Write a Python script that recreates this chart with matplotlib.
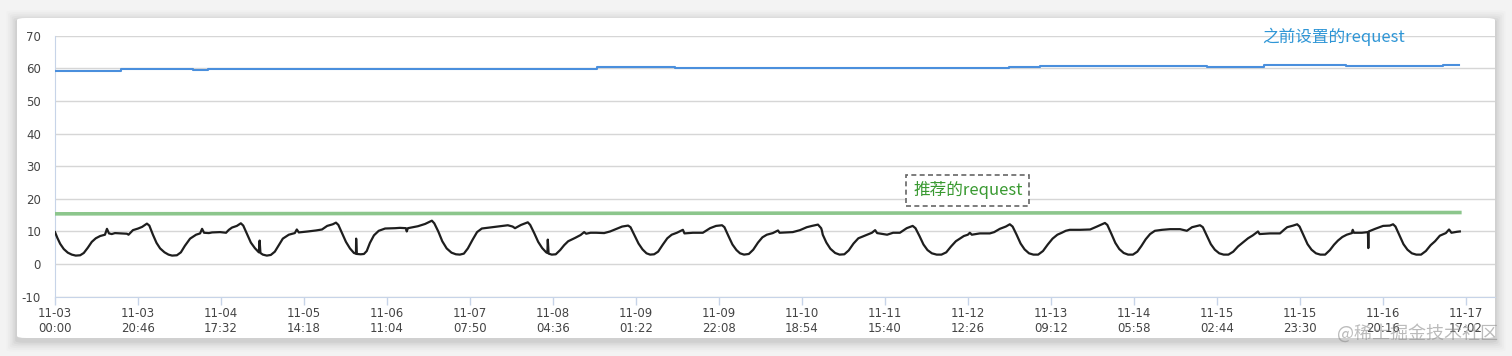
import matplotlib
matplotlib.use("Agg")
import matplotlib.pyplot as plt
from matplotlib.patches import FancyBboxPatch
import pandas as pd

# ---- data (hour since 11-03 00:00, value) ----
usage_points = [
    # day 1
    (0.0, 9.8), (0.6, 8.0), (1.3, 6.2), (2.2, 4.6), (3.2, 3.5), (4.2, 2.9), (5.2, 2.6), (6.3, 2.7),
    (7.2, 3.4), (8.2, 5.0), (9.2, 6.8), (10.2, 7.9), (11.3, 8.6), (12.5, 9.0), (13.0, 10.8), (13.5, 9.4),
    (14.2, 9.2), (15.0, 9.5), (16.8, 9.4), (18.0, 9.3), (18.4, 9.0), (19.5, 10.4), (20.8, 10.9),
    (21.8, 11.4), (23.0, 12.4), (23.6, 11.8), (24.5, 9.0), (25.4, 6.5), (26.3, 4.8), (27.4, 3.6),
    (28.4, 2.9), (29.3, 2.6),
    # day 2
    (30.5, 2.7), (31.5, 3.6), (32.5, 5.6), (33.8, 7.8), (35.3, 9.0), (36.3, 9.4), (36.8, 10.8),
    (37.3, 9.6), (38.5, 9.5), (39.3, 9.7), (41.3, 9.8), (42.8, 9.6), (43.5, 10.5), (44.3, 11.2),
    (45.5, 11.7), (46.5, 12.5), (47.1, 11.8), (48.0, 9.3), (49.0, 6.6), (50.0, 4.9), (51.0, 3.6),
    (51.2, 7.2), (51.4, 3.4), (52.0, 2.9), (53.0, 2.6),
    # day 3
    (54.0, 2.8), (55.0, 3.8), (56.0, 5.8), (57.0, 7.8), (58.5, 9.0), (60.0, 9.5), (60.5, 10.6),
    (61.0, 9.7), (63.3, 10.0), (65.3, 10.3), (66.8, 10.6), (68.1, 11.7), (69.5, 12.2), (70.3, 12.7),
    (70.9, 12.0), (71.8, 9.5), (72.8, 6.8), (73.8, 4.8), (74.8, 3.4), (75.3, 3.2), (75.35, 7.8),
    (75.5, 3.1), (76.5, 3.0), (77.3, 3.1),
    # day 4
    (78.0, 4.0), (78.8, 6.5), (79.8, 8.8), (81.0, 10.2), (82.6, 10.9), (85.1, 11.0), (86.3, 11.1),
    (87.8, 11.0), (88.0, 10.0), (88.3, 11.0), (90.8, 11.6), (92.6, 12.3), (94.3, 13.3), (94.9, 12.5),
    (95.9, 10.0), (96.9, 7.0), (98.0, 4.8), (99.2, 3.5), (100.3, 3.0), (101.3, 2.9),
    # day 5
    (102.3, 3.2), (103.3, 4.8), (104.5, 7.5), (105.6, 9.8), (106.8, 10.9), (108.8, 11.2), (111.3, 11.6),
    (113.3, 11.9), (114.5, 11.5), (115.1, 11.0), (116.6, 12.0), (118.3, 12.8), (118.9, 12.0),
    (119.9, 9.5), (120.9, 6.8), (121.9, 4.9), (122.9, 3.6), (123.2, 3.4), (123.3, 7.5), (123.5, 3.2),
    (124.3, 2.9), (125.3, 3.0),
    # day 6
    (126.4, 4.3), (127.4, 5.8), (128.4, 7.0), (130.1, 8.0), (131.5, 8.9), (132.4, 9.8), (132.9, 9.3),
    (134.0, 9.6), (135.4, 9.6), (137.4, 9.5), (138.9, 10.0), (140.1, 10.6), (141.9, 11.5), (143.4, 11.8),
    (144.0, 11.3), (145.0, 8.8), (146.0, 6.3), (147.0, 4.5), (148.0, 3.3), (148.9, 2.9), (149.9, 3.0),
    # day 7
    (150.9, 3.8), (152.1, 6.0), (153.2, 7.9), (154.3, 9.0), (155.6, 9.6), (157.1, 10.5), (157.5, 9.4),
    (159.6, 9.6), (162.1, 9.6), (163.9, 11.0), (165.4, 11.7), (166.9, 11.9), (167.5, 11.3), (168.5, 8.6),
    (169.5, 6.0), (170.5, 4.3), (171.4, 3.3), (172.4, 2.9), (173.6, 3.1),
    # day 8
    (174.7, 4.4), (175.9, 6.6), (177.0, 8.2), (178.1, 9.0), (179.6, 9.5), (180.9, 10.3), (181.3, 9.6),
    (184.6, 9.8), (186.4, 10.4), (188.1, 11.3), (189.4, 11.7), (190.9, 12.1), (191.7, 11.0),
    (191.9, 10.2), (192.1, 9.0), (193.0, 6.6), (194.0, 4.7), (195.2, 3.4), (196.3, 2.9), (197.5, 3.0),
    # day 9
    (198.6, 4.2), (199.8, 6.3), (201.0, 7.9), (203.2, 9.0), (204.4, 9.6), (205.2, 10.4), (205.7, 9.5),
    (208.2, 9.0), (209.7, 9.6), (211.4, 9.6), (213.1, 11.0), (214.6, 11.7), (215.3, 11.0), (216.3, 8.6),
    (217.3, 6.0), (218.3, 4.3), (219.4, 3.3), (220.6, 2.9), (221.8, 2.9),
    # day 10
    (223.0, 3.6), (224.2, 5.4), (225.4, 7.0), (227.4, 8.6), (228.4, 9.0), (228.9, 9.6), (229.4, 9.0),
    (231.4, 9.4), (233.9, 9.4), (235.0, 9.8), (236.4, 10.8), (237.9, 11.5), (238.9, 12.2), (239.6, 11.5),
    (240.6, 9.0), (241.6, 6.3), (242.6, 4.5), (243.7, 3.3), (244.8, 2.9), (246.0, 2.9),
    # day 11
    (247.2, 4.0), (248.4, 6.0), (249.6, 7.8), (250.8, 9.0), (251.9, 9.6), (252.9, 10.2), (253.9, 10.5),
    (256.5, 10.5), (259.0, 10.6), (260.7, 11.5), (262.7, 12.6), (263.3, 12.0), (264.3, 9.3),
    (265.3, 6.5), (266.3, 4.6), (267.4, 3.4), (268.5, 2.9), (269.7, 2.9),
    # day 12
    (270.8, 3.8), (271.8, 5.5), (272.9, 7.6), (274.0, 9.2), (275.2, 10.2), (277.0, 10.5), (279.0, 10.7),
    (281.5, 10.7), (283.2, 10.2), (284.5, 11.3), (286.5, 11.9), (287.2, 11.3), (288.2, 8.7),
    (289.2, 6.1), (290.2, 4.4), (291.3, 3.3), (292.4, 2.9), (293.6, 2.9),
    # day 13
    (294.8, 3.8), (296.0, 5.4), (297.2, 6.6), (298.5, 7.9), (299.7, 8.8), (301.0, 10.0), (301.4, 9.2),
    (304.0, 9.4), (306.5, 9.4), (307.5, 10.5), (308.3, 11.3), (309.8, 11.8), (310.8, 12.2),
    (311.4, 11.5), (312.4, 8.8), (313.4, 6.1), (314.4, 4.4), (315.5, 3.3), (316.6, 2.9), (317.8, 2.9),
    # day 14
    (319.0, 4.3), (320.0, 5.9), (321.0, 7.2), (322.1, 8.3), (323.2, 9.0), (324.5, 9.5), (324.7, 10.5),
    (325.0, 9.6), (327.0, 9.6), (328.5, 9.8), (328.6, 4.9), (328.7, 10.0), (330.3, 10.8), (332.3, 11.7),
    (334.0, 11.8), (334.8, 12.2), (335.4, 11.5), (336.4, 8.8), (337.4, 6.1), (338.4, 4.4), (339.5, 3.3),
    (340.6, 2.9), (341.8, 2.9),
    # day 15
    (343.0, 4.0), (344.2, 5.8), (345.3, 7.0), (346.5, 8.7), (348.0, 9.5), (348.8, 10.6), (349.4, 9.6),
    (350.3, 9.8), (350.8, 9.9), (351.5, 10.0),
]
usage_hours = [p[0] for p in usage_points]
usage_vals = [p[1] for p in usage_points]

old_req_hours = [0, 16.5, 34.5, 38.3, 135.6, 155.1, 212.2, 238.7, 246.4, 288.2, 302.5, 323.0, 347.3, 351.3]
old_req_vals = [59.2, 59.9, 59.4, 59.9, 60.4, 60.0, 60.2, 60.4, 60.6, 60.5, 60.9, 60.8, 61.0, 61.0]

rec_req_hours = [0, 351.5]
rec_req_vals = [15.4, 15.8]

tick_labels = ["11-03 00:00", "11-03 20:46", "11-04 17:32", "11-05 14:18", "11-06 11:04",
               "11-07 07:50", "11-08 04:36", "11-09 01:22", "11-09 22:08", "11-10 18:54",
               "11-11 15:40", "11-12 12:26", "11-13 09:12", "11-14 05:58", "11-15 02:44",
               "11-15 23:30", "11-16 20:16", "11-17 17:02"]
y_ticks = [-10, 0, 10, 20, 30, 40, 50, 60, 70]

# tick positions in hours from the label text
start = pd.Timestamp("2020-11-03 00:00")
tick_pos = [(pd.Timestamp("2020-" + t) - start) / pd.Timedelta(hours=1) for t in tick_labels]

cjk = ["Noto Sans CJK SC", "DejaVu Sans"]

fig = plt.figure(figsize=(15.12, 3.56), dpi=100)
fig.patch.set_facecolor("#f3f3f3")

# card with a soft shadow (drawn behind the axes)
W, H = 1512.0, 356.0
cx0, cy0, cx1, cy1 = 17 / W, 1 - 338 / H, 1495 / W, 1 - 18 / H
for i, a in enumerate([0.035, 0.03, 0.025, 0.02, 0.015, 0.01]):
    g = (i + 1) * 1.8
    sh = FancyBboxPatch((cx0 - g / W, cy0 - (g + 3) / H), cx1 - cx0 + 2 * g / W, cy1 - cy0 + 2 * g / H,
                        boxstyle="round,pad=0,rounding_size=0.006", transform=fig.transFigure,
                        facecolor="black", edgecolor="none", alpha=a, zorder=-3)
    fig.patches.append(sh)
card = FancyBboxPatch((cx0, cy0), cx1 - cx0, cy1 - cy0, boxstyle="round,pad=0,rounding_size=0.006",
                      transform=fig.transFigure, facecolor="white", edgecolor="none", zorder=-2)
fig.patches.append(card)

ax = fig.add_axes([55 / W, 1 - 296.7 / H, (1495 - 55) / W, (296.7 - 35.7) / H])
ax.set_facecolor("white")

ax.plot(old_req_hours, old_req_vals, drawstyle="steps-post", color="#4a8fdd", lw=1.5, zorder=3)
ax.plot(rec_req_hours, rec_req_vals, color="#8cc68c", lw=2.6, zorder=3)
ax.plot(usage_hours, usage_vals, color="#1e1e1e", lw=1.6, zorder=4, solid_joinstyle="round")

ax.set_xlim(0, 360.3)
ax.set_ylim(-10, 70)
ax.set_yticks(y_ticks)
ax.set_yticklabels([str(v) for v in y_ticks])
ax.set_xticks(tick_pos)
ax.set_xticklabels([t.replace(" ", "\n") for t in tick_labels], linespacing=1.25)

ax.grid(axis="y", color="#d6d6d6", lw=1)
ax.set_axisbelow(True)
for s in ["top", "right"]:
    ax.spines[s].set_visible(False)
ax.spines["left"].set_color("#c7d4e8")
ax.spines["bottom"].set_color("#c7d4e8")
ax.tick_params(axis="y", length=0, pad=10, labelsize=8.5, labelcolor="#444444")
ax.tick_params(axis="x", length=5.8, width=1, color="#c7d4e8", pad=1.5, labelsize=8.5, labelcolor="#444444")

# annotations
ax.text(320, 69.8, "之前设置的request", family=cjk, fontsize=12, color="#2f96d6",
        ha="center", va="center", zorder=5)
ax.text(228.4, 22.6, "推荐的request", family=cjk, fontsize=12, color="#3a9a32",
        ha="center", va="center", zorder=5,
        bbox=dict(boxstyle="square,pad=0.4", facecolor="white", edgecolor="#666666",
                  linestyle=(0, (3, 2)), lw=1.2))

# watermark
fig.text(1418 / W, 1 - 333 / H, "@稀土掘金技术社区", family=cjk, fontsize=13, color="#8f8f8f",
         alpha=0.6, ha="center", va="center", zorder=10)

fig.savefig("out.png", dpi=100, facecolor=fig.get_facecolor())
